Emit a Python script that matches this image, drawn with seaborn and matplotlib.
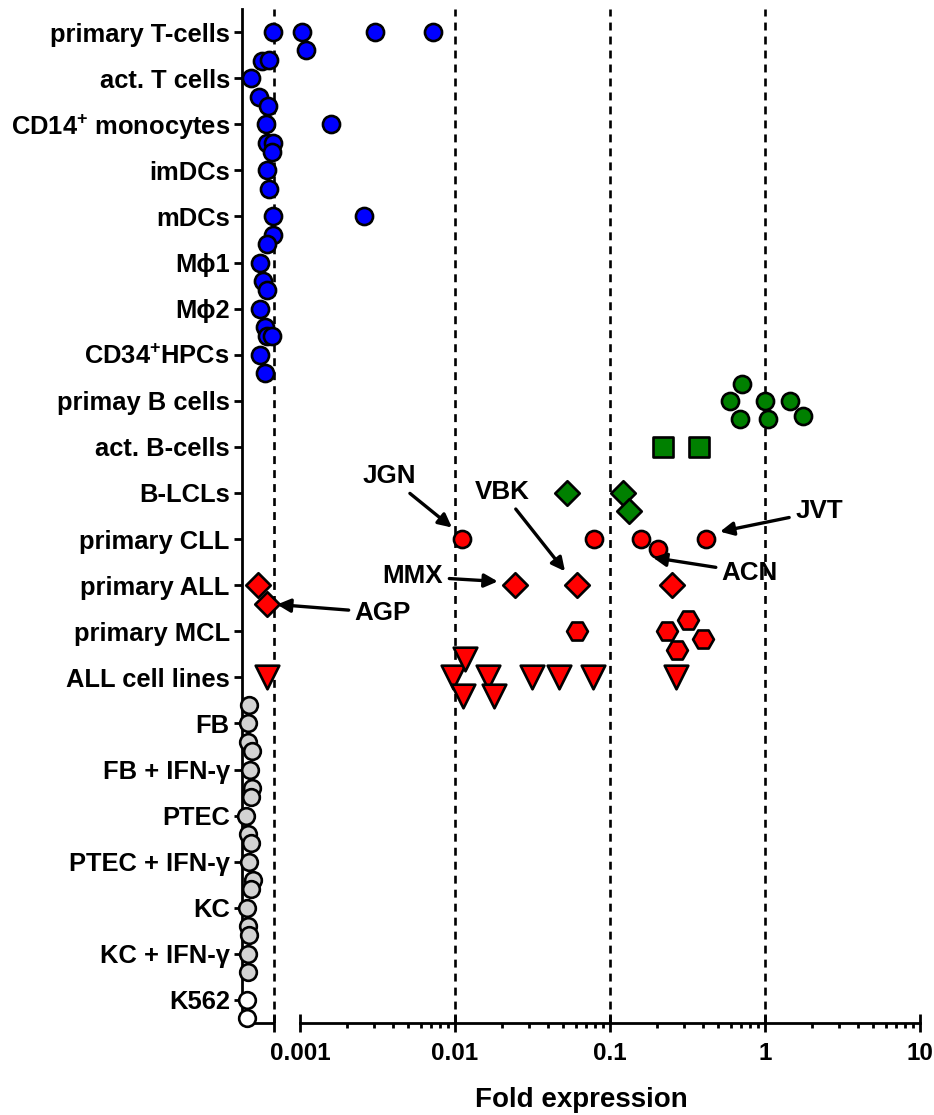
import numpy as np
import pandas as pd
import matplotlib
matplotlib.use("Agg")
import matplotlib.pyplot as plt
from matplotlib.ticker import FixedLocator, NullFormatter
from matplotlib.transforms import blended_transform_factory
import seaborn as sns

# ---------------- data ----------------
categories = ["primary T-cells", "act. T cells", "CD14+ monocytes", "imDCs", "mDCs",
              "Mphi1", "Mphi2", "CD34+HPCs", "primay B cells", "act. B-cells", "B-LCLs",
              "primary CLL", "primary ALL", "primary MCL", "ALL cell lines", "FB",
              "FB + IFN-g", "PTEC", "PTEC + IFN-g", "KC", "KC + IFN-g", "K562"]
tick_labels = ["primary T-cells", "act. T cells", r"CD14$^{+}$ monocytes", "imDCs", "mDCs",
               "Mϕ1", "Mϕ2", r"CD34$^{+}$HPCs", "primay B cells", "act. B-cells", "B-LCLs",
               "primary CLL", "primary ALL", "primary MCL", "ALL cell lines", "FB",
               "FB + IFN-γ", "PTEC", "PTEC + IFN-γ", "KC", "KC + IFN-γ", "K562"]

primary_t_cells = [0.00067, 0.00103, 0.00109, 0.00305, 0.00721]
act_t_cells = [0.00048, 0.000545, 0.000566, 0.000634]
cd14_monocytes = [0.000604, 0.000613, 0.000622, 0.00067, 0.00158]
imdcs = [0.00061, 0.00063, 0.00066]
mdcs = [0.00067, 0.000675, 0.00259]
mphi1 = [0.000552, 0.000577, 0.000613]
mphi2 = [0.000552, 0.000595, 0.000613]
cd34_hpcs = [0.000552, 0.000595, 0.000613, 0.00066]
primary_b_cells = [0.594, 0.690, 0.711, 1.0, 1.046, 1.449, 1.758]
act_b_cells = [0.22, 0.375]
b_lcls = [0.0528, 0.121, 0.133]
primary_cll = [0.0111, 0.0789, 0.158, 0.204, 0.416]
primary_all = [0.000536, 0.000613, 0.0244, 0.0612, 0.251]
primary_mcl = [0.0612, 0.233, 0.271, 0.318, 0.398]
all_cell_lines = [0.000613, 0.0097, 0.0113, 0.0116, 0.0163, 0.0179, 0.0314, 0.0469, 0.0777, 0.267]
fb = [0.000462, 0.000465, 0.00047]
fb_ifng = [0.000476, 0.00049, 0.000492]
ptec = [0.000448, 0.000462, 0.000483]
ptec_ifng = [0.00047, 0.000483, 0.000497]
kc = [0.000455, 0.00046, 0.000483]
kc_ifng = [0.000462, 0.000465, 0.00047]
k562 = [0.000455, 0.000458]

series = [primary_t_cells, act_t_cells, cd14_monocytes, imdcs, mdcs, mphi1, mphi2,
          cd34_hpcs, primary_b_cells, act_b_cells, b_lcls, primary_cll, primary_all,
          primary_mcl, all_cell_lines, fb, fb_ifng, ptec, ptec_ifng, kc, kc_ifng, k562]

reference_lines = [0.00068, 0.01, 0.1, 1]
x_min, x_max = 0.000423, 10
major_ticks = [0.001, 0.01, 0.1, 1, 10]
major_labels = ["0.001", "0.01", "0.1", "1", "10"]

df = pd.DataFrame({
    "category": [c for c, vals in zip(categories, series) for _ in vals],
    "value": [v for vals in series for v in vals],
})

# ---------------- styles ----------------
BLUE, GREEN, RED, GREY, WHITE = "#0000FF", "#008000", "#FF0000", "#D3D3D3", "#FFFFFF"
style_groups = [
    (categories[0:8], "o", BLUE, 12.3),
    (["primay B cells"], "o", GREEN, 12.3),
    (["act. B-cells"], "s", GREEN, 15.0),
    (["B-LCLs"], "D", GREEN, 12.5),
    (["primary CLL"], "o", RED, 12.3),
    (["primary ALL"], "D", RED, 12.5),
    (["primary MCL"], "H", RED, 15.0),
    (["ALL cell lines"], "v", RED, 17.0),
    (categories[15:21], "o", GREY, 12.0),
    (["K562"], "o", WHITE, 12.0),
]

annotations = [
    ("JGN", (0.00957, 10.75), (0.00375, 9.64)),
    ("MMX", (0.0189, 11.92), (0.00536, 11.81)),
    ("VBK", (0.0513, 11.70), (0.0201, 9.97)),
    ("JVT", (0.513, 10.84), (2.23, 10.40)),
    ("ACN", (0.189, 11.40), (0.80, 11.73)),
    ("AGP", (0.000711, 12.42), (0.00343, 12.60)),
]

sns.set_style("ticks")
plt.rcParams["font.family"] = ["Liberation Sans", "DejaVu Sans"]
plt.rcParams["font.weight"] = "bold"
plt.rcParams["mathtext.fontset"] = "custom"
plt.rcParams["mathtext.rm"] = "Liberation Sans:bold"
plt.rcParams["mathtext.bf"] = "Liberation Sans:bold"
plt.rcParams["mathtext.it"] = "Liberation Sans:bold:italic"
plt.rcParams["axes.linewidth"] = 2.0
for key in ("text.color", "axes.labelcolor", "xtick.color", "ytick.color", "axes.edgecolor"):
    plt.rcParams[key] = "black"

fig = plt.figure(figsize=(9.34, 11.15), dpi=100)
ax = fig.add_axes([242 / 934, 1 - 1023 / 1115, (920 - 242) / 934, (1023 - 9) / 1115])
ax.set_xscale("log")
ax.set_xlim(x_min, x_max)

for xv in reference_lines:
    ax.axvline(xv, color="black", lw=1.9, ls=(0, (3.0, 2.3)), zorder=1)

for cats, marker, color, size in style_groups:
    sub = df[df["category"].isin(cats)]
    sns.swarmplot(data=sub, x="value", y="category", order=categories, orient="y",
                  marker=marker, color=color, edgecolor="black", linewidth=1.9,
                  size=size, zorder=3, clip_on=False, warn_thresh=1, ax=ax)

ax.set_xlim(x_min, x_max)
ax.set_ylim(len(categories) - 0.5, -0.5)
ax.set_yticks(range(len(categories)))
ax.set_yticklabels(tick_labels)
ax.set_ylabel("")
ax.set_xlabel("Fold expression", fontsize=20, fontweight="bold", labelpad=16)

ax.xaxis.set_major_locator(FixedLocator([reference_lines[0]] + major_ticks))
ax.set_xticklabels([""] + major_labels)
minors = [k * 10.0 ** e for e in range(-3, 1) for k in range(2, 10)]
ax.xaxis.set_minor_locator(FixedLocator(minors))
ax.xaxis.set_minor_formatter(NullFormatter())

ax.tick_params(axis="x", which="major", direction="inout", length=13, width=2,
               labelsize=17.5, pad=7)
ax.tick_params(axis="x", which="minor", direction="out", length=3.6, width=2)
ax.tick_params(axis="y", which="major", direction="out", length=5.8, width=2,
               labelsize=18.4, pad=3)
for lab in ax.get_xticklabels() + ax.get_yticklabels():
    lab.set_fontweight("bold")

for s in ("top", "right"):
    ax.spines[s].set_visible(False)
ax.spines["bottom"].set_bounds(major_ticks[0], major_ticks[-1])
trans = blended_transform_factory(ax.transData, ax.transAxes)
ax.plot([x_min, reference_lines[0]], [0, 0], transform=trans, color="black", lw=2,
        clip_on=False, solid_capstyle="butt", zorder=2.5)

for label, tip, txt in annotations:
    ax.annotate(label, xy=tip, xytext=txt, textcoords="data", ha="center", va="center",
                fontsize=18.7, fontweight="bold", zorder=5,
                arrowprops=dict(arrowstyle="-|>", color="black", lw=2.4,
                                mutation_scale=20, shrinkA=2, shrinkB=0))

fig.savefig("out.png", dpi=100)
